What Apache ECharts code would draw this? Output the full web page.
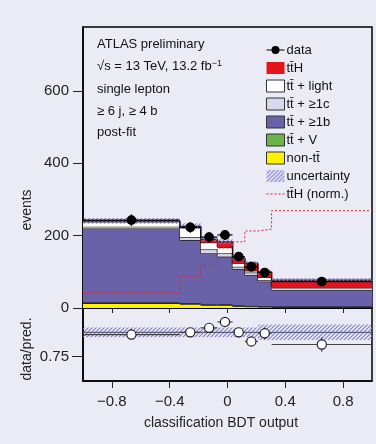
<!DOCTYPE html>
<html>
<head>
<meta charset="utf-8">
<script src="https://cdn.jsdelivr.net/npm/echarts@6/dist/echarts.min.js"></script>
<style>
html,body{margin:0;padding:0;background:#ebebf6;}
#main{width:376px;height:444px;}
</style>
</head>
<body>
<div id="main"></div>
<script>
var FONT = '"Liberation Sans", Arial, sans-serif';

// bin edges of the BDT output histogram
var edges = [-1, -0.33, -0.185, -0.07, 0.035, 0.12, 0.21, 0.305, 1];
// stacked prediction, events per bin (bottom to top)
var nonTT   = [13, 11, 8, 8, 5, 4, 3, 2];
var ttV     = [2, 2, 2, 2, 2, 2, 2, 2];
var ttB     = [205, 175, 141, 132, 101, 85, 68, 46];
var ttC     = [5, 8, 11, 9, 6, 7, 4, 4];
var ttLight = [13, 26, 19, 17, 10, 5, 8, 4];
var ttH     = [3, 4, 9, 15, 14, 21, 15, 19];
var predUnc = [8, 8, 7, 7, 6, 6, 6, 6];
// data
var dataVal = [243, 223, 196, 202, 142, 114, 98, 73];
var dataErr = [16, 15, 14, 14, 12, 11, 10, 9];
// ttH shape, normalised
var ttHNorm = [43, 88, 118, 166, 183, 213, 218, 269];
// ratio panel
var ratio    = [0.977, 1.0, 1.046, 1.107, 1.0, 0.907, 0.99, 0.875];
var ratioErr = [0.03, 0.04, 0.045, 0.05, 0.05, 0.055, 0.06, 0.075];
var ratioUnc = [0.05, 0.05, 0.05, 0.05, 0.05, 0.05, 0.08, 0.08];

var xTicks = [-0.8, -0.4, 0, 0.4, 0.8];
var yTicks = [0, 200, 400, 600];
var rTicks = [0.75];

var TT = 'tt\u0304';

// hatch pattern for the uncertainty
var hatch = document.createElement('canvas');
hatch.width = 4; hatch.height = 4;
(function () {
  var c = hatch.getContext('2d');
  c.strokeStyle = '#7c7ccc';
  c.lineWidth = 1.1;
  c.beginPath();
  c.moveTo(0, 4); c.lineTo(4, 0);
  c.moveTo(-1, 1); c.lineTo(1, -1);
  c.moveTo(3, 5); c.lineTo(5, 3);
  c.stroke();
})();
var hatchFill = { image: hatch, repeat: 'repeat' };

var chart = echarts.init(document.getElementById('main'));

// build stacked layers
var layers = [
  { name: 'non-' + TT, vals: nonTT, color: '#fff200' },
  { name: TT + ' + V', vals: ttV, color: '#6ab447' },
  { name: TT + ' + \u22651b', vals: ttB, color: '#6a62a8' },
  { name: TT + ' + \u22651c', vals: ttC, color: '#d9d7eb' },
  { name: TT + ' + light', vals: ttLight, color: '#ffffff' },
  { name: TT + 'H', vals: ttH, color: '#e3141b' }
];
var base = nonTT.map(function () { return 0; });
var stackSeries = layers.map(function (l) {
  var lo = base.slice();
  var hi = lo.map(function (b, i) { return b + l.vals[i]; });
  base = hi;
  var rows = hi.map(function (h, i) {
    return [edges[i], edges[i + 1], lo[i], h, i + 1 < hi.length ? hi[i + 1] : NaN];
  });
  return {
    name: l.name,
    type: 'custom',
    xAxisIndex: 0, yAxisIndex: 0,
    z: 2,
    itemStyle: { color: l.color },
    renderItem: function (params, api) {
      var p0 = api.coord([api.value(0), api.value(2)]);
      var p1 = api.coord([api.value(1), api.value(3)]);
      var last = isNaN(api.value(4));
      var kids = [{
        type: 'rect',
        shape: { x: p0[0], y: p1[1], width: p1[0] - p0[0] + (last ? 0 : 0.8), height: p0[1] - p1[1] },
        style: { fill: l.color }
      }, {
        type: 'line',
        shape: { x1: p0[0], y1: p1[1], x2: p1[0], y2: p1[1] },
        style: { stroke: '#111', lineWidth: 1.3 }
      }];
      if (!last) {
        var pn = api.coord([api.value(1), api.value(4)]);
        kids.push({
          type: 'line',
          shape: { x1: p1[0], y1: p1[1], x2: p1[0], y2: pn[1] },
          style: { stroke: '#111', lineWidth: 1.3 }
        });
      }
      return { type: 'group', children: kids };
    },
    data: rows
  };
});
var total = base;

var uncRows = total.map(function (t, i) { return [edges[i], edges[i + 1], t - predUnc[i], t + predUnc[i]]; });
var dataRows = dataVal.map(function (v, i) {
  return [(edges[i] + edges[i + 1]) / 2, v, dataErr[i], edges[i], edges[i + 1]];
});
var normRows = ttHNorm.map(function (v, i) { return [edges[i], v]; });
normRows.push([edges[edges.length - 1], ttHNorm[ttHNorm.length - 1]]);
var ratioRows = ratio.map(function (v, i) {
  return [(edges[i] + edges[i + 1]) / 2, v, ratioErr[i], edges[i], edges[i + 1]];
});
var ratioUncRows = ratioUnc.map(function (u, i) { return [edges[i], edges[i + 1], 1 - u, 1 + u]; });

function bandItem(params, api) {
  var p0 = api.coord([api.value(0), api.value(2)]);
  var p1 = api.coord([api.value(1), api.value(3)]);
  return {
    type: 'rect',
    shape: { x: p0[0], y: p1[1], width: p1[0] - p0[0], height: p0[1] - p1[1] },
    style: { fill: hatchFill }
  };
}

function pointItem(open) {
  return function (params, api) {
    var c = api.coord([api.value(0), api.value(1)]);
    var up = api.coord([api.value(0), api.value(1) + api.value(2)]);
    var dn = api.coord([api.value(0), api.value(1) - api.value(2)]);
    var l = api.coord([api.value(3), api.value(1)]);
    var r = api.coord([api.value(4), api.value(1)]);
    var col = open ? '#444' : '#000';
    return {
      type: 'group',
      children: [
        { type: 'line', shape: { x1: l[0], y1: c[1], x2: r[0], y2: c[1] }, style: { stroke: col, lineWidth: 1.2 } },
        { type: 'line', shape: { x1: c[0], y1: up[1], x2: c[0], y2: dn[1] }, style: { stroke: col, lineWidth: 1.2 } },
        { type: 'circle', shape: { cx: c[0], cy: c[1], r: open ? 4.6 : 4.3 },
          style: { fill: open ? '#fff' : '#000', stroke: open ? '#222' : '#000', lineWidth: 1.2 } }
      ]
    };
  };
}

var series = stackSeries.concat([
  {
    name: 'uncertainty', type: 'custom', xAxisIndex: 0, yAxisIndex: 0, z: 3,
    itemStyle: { color: hatchFill },
    renderItem: bandItem, data: uncRows
  },
  {
    name: TT + 'H (norm.)', type: 'line', xAxisIndex: 0, yAxisIndex: 0, z: 4,
    step: 'end', symbol: 'none', silent: true,
    lineStyle: { color: '#e0202a', width: 1, type: [2, 2] },
    itemStyle: { color: '#e0202a' },
    data: normRows
  },
  {
    name: 'data', type: 'custom', xAxisIndex: 0, yAxisIndex: 0, z: 5,
    itemStyle: { color: '#000' },
    renderItem: pointItem(false), data: dataRows
  },
  {
    name: 'ratioUnc', type: 'custom', xAxisIndex: 1, yAxisIndex: 1, z: 3,
    renderItem: bandItem, data: ratioUncRows
  },
  {
    name: 'ratioOne', type: 'line', xAxisIndex: 1, yAxisIndex: 1, z: 4,
    symbol: 'none', silent: true,
    lineStyle: { color: '#4a4a6e', width: 1 },
    data: [[-1, 1], [1, 1]]
  },
  {
    name: 'ratio', type: 'custom', xAxisIndex: 1, yAxisIndex: 1, z: 5,
    renderItem: pointItem(true), data: ratioRows
  }
]);

function minus(v) {
  return v < 0 ? '\u2212' + Math.abs(v) : String(v);
}

var axisLineStyle = { show: true, onZero: false, lineStyle: { color: '#000', width: 1.5 } };

var option = {
  backgroundColor: '#ebebf6',
  animation: false,
  textStyle: { fontFamily: FONT },
  grid: [
    { left: 83, right: 4, top: 27, height: 281, show: true, borderColor: '#000', borderWidth: 1.5, backgroundColor: 'transparent' },
    { left: 83, right: 4, top: 308, height: 73, show: true, borderColor: '#000', borderWidth: 1.5, backgroundColor: 'transparent' }
  ],
  xAxis: [
    {
      gridIndex: 0, type: 'value', min: -1, max: 1,
      axisLine: axisLineStyle,
      axisTick: { customValues: xTicks, length: 5, lineStyle: { color: '#222', width: 1 } },
      axisLabel: { show: false },
      splitLine: { show: false }
    },
    {
      gridIndex: 1, type: 'value', min: -1, max: 1,
      axisLine: axisLineStyle,
      axisTick: { customValues: xTicks, length: 7, lineStyle: { color: '#222', width: 1 } },
      axisLabel: { customValues: xTicks, formatter: minus, fontSize: 15, color: '#222', margin: 13, fontFamily: FONT },
      splitLine: { show: false }
    }
  ],
  yAxis: [
    {
      gridIndex: 0, type: 'value', min: 0, max: 777,
      axisLine: axisLineStyle,
      axisTick: { customValues: yTicks, length: 10, lineStyle: { color: '#222', width: 1 } },
      axisLabel: { customValues: yTicks, fontSize: 15, color: '#222', margin: 14, fontFamily: FONT },
      splitLine: { show: false }
    },
    {
      gridIndex: 1, type: 'value', min: 0.5, max: 1.25,
      axisLine: axisLineStyle,
      axisTick: { customValues: rTicks, length: 11, lineStyle: { color: '#222', width: 1 } },
      axisLabel: { customValues: rTicks, fontSize: 15, color: '#222', margin: 14, fontFamily: FONT },
      splitLine: { show: false }
    }
  ],
  legend: {
    orient: 'vertical', left: 261, top: 38,
    itemWidth: 18, itemHeight: 12, itemGap: 4,
    selectedMode: false,
    textStyle: { fontSize: 13, lineHeight: 14, color: '#111', fontFamily: FONT, padding: [0, 0, 0, -3] },
    data: [
      { name: 'data', icon: 'path://M0,5.4L18,5.4L18,6.6L0,6.6Z M13,6 A4,4 0 1 1 5,6 A4,4 0 1 1 13,6 Z', itemStyle: { color: '#000' } },
      { name: TT + 'H', icon: 'rect', itemStyle: { color: '#e3141b' } },
      { name: TT + ' + light', icon: 'rect', itemStyle: { color: '#ffffff', borderColor: '#333', borderWidth: 1 } },
      { name: TT + ' + \u22651c', icon: 'rect', itemStyle: { color: '#d9d7eb', borderColor: '#333', borderWidth: 1 } },
      { name: TT + ' + \u22651b', icon: 'rect', itemStyle: { color: '#6a62a8', borderColor: '#333', borderWidth: 1 } },
      { name: TT + ' + V', icon: 'rect', itemStyle: { color: '#6ab447', borderColor: '#333', borderWidth: 1 } },
      { name: 'non-' + TT, icon: 'rect', itemStyle: { color: '#fff200', borderColor: '#333', borderWidth: 1 } },
      { name: 'uncertainty', icon: 'rect', itemStyle: { color: hatchFill } },
      { name: TT + 'H (norm.)', icon: 'path://M0,0H2V1H0Z M4,0H6V1H4Z M8,0H10V1H8Z M12,0H14V1H12Z M16,0H18V1H16Z',
        itemStyle: { color: '#e0202a' } }
    ]
  },
  graphic: [
    { type: 'text', left: 97, top: 38, style: { text: 'ATLAS preliminary', fontSize: 13, fill: '#111', fontFamily: FONT } },
    { type: 'text', left: 97, top: 59, style: { text: '\u221as = 13 TeV, 13.2 fb{s|\u22121}', fontSize: 13, fill: '#111', fontFamily: FONT,
        rich: { s: { fontSize: 9, verticalAlign: 'top', padding: [0, 0, 6, 0], fontFamily: FONT, fill: '#111' } } } },
    { type: 'text', left: 97, top: 83, style: { text: 'single lepton', fontSize: 13, fill: '#111', fontFamily: FONT } },
    { type: 'text', left: 97, top: 105, style: { text: '\u2265 6 j, \u2265 4 b', fontSize: 13, fill: '#111', fontFamily: FONT } },
    { type: 'text', left: 97, top: 126, style: { text: 'post-fit', fontSize: 13, fill: '#111', fontFamily: FONT } },
    { type: 'text', x: 27, y: 210, rotation: Math.PI / 2, style: { text: 'events', fontSize: 14, fill: '#222', fontFamily: FONT, align: 'center', verticalAlign: 'middle' } },
    { type: 'text', x: 27, y: 349, rotation: Math.PI / 2, style: { text: 'data/pred.', fontSize: 14, fill: '#222', fontFamily: FONT, align: 'center', verticalAlign: 'middle' } },
    { type: 'text', x: 221, y: 423, style: { text: 'classification BDT output', fontSize: 14, fill: '#222', fontFamily: FONT, align: 'center', verticalAlign: 'middle' } }
  ],
  series: series
};

chart.setOption(option);
</script>
</body>
</html>
